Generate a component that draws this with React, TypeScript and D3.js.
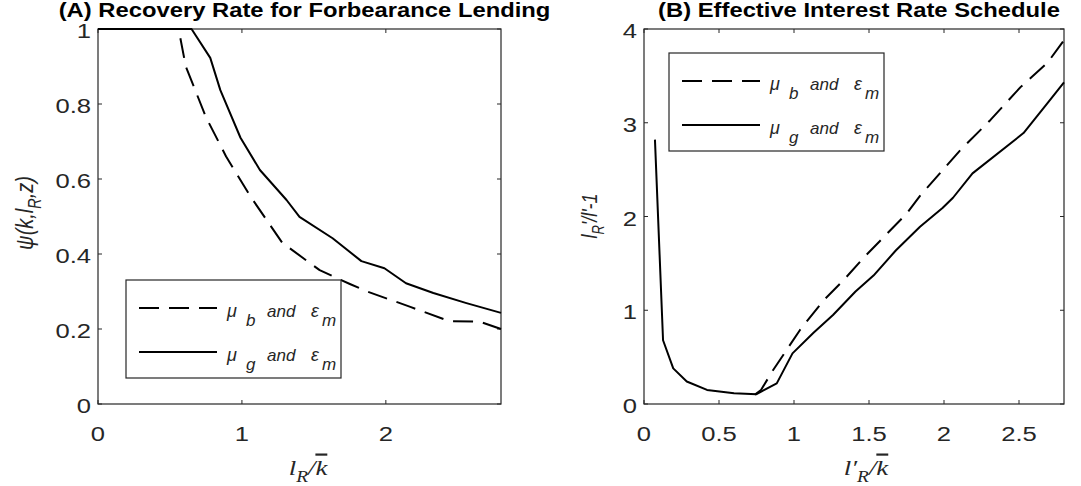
import { useEffect, useRef } from "react";
import * as d3 from "d3";

const W = 1081;
const H = 486;
const SX = 1.22; // the reference is stretched sideways; text follows it
const AXIS = "#262626";
const SANS = "Arial, 'Liberation Sans', Helvetica, sans-serif";
const SERIF = "'Liberation Serif', 'DejaVu Serif', serif";

// Panel A: recovery rate psi(k, l_R, z) against l_R / kbar
const recoveryBadX = [0, 0.56, 0.61, 0.75, 0.89, 1.06, 1.28, 1.54, 1.75, 1.87, 2.17, 2.44, 2.65, 2.8];
const recoveryBadY = [1, 1, 0.9, 0.765, 0.66, 0.553, 0.43, 0.357, 0.32, 0.3, 0.259, 0.221, 0.22, 0.2];
const recoveryGoodX = [0, 0.65, 0.78, 0.85, 0.99, 1.125, 1.31, 1.4, 1.63, 1.83, 1.99, 2.14, 2.33, 2.56, 2.8];
const recoveryGoodY = [1, 1, 0.923, 0.837, 0.71, 0.624, 0.544, 0.499, 0.442, 0.381, 0.362, 0.322, 0.296, 0.269, 0.243];

// Panel B: effective interest rate l_R'/l' - 1 against l'_R / kbar
const rateBadX = [0.74, 0.78, 0.86, 1.04, 1.2, 1.33, 1.47, 1.75, 1.84, 2.11, 2.31, 2.51, 2.69, 2.8];
const rateBadY = [0.1, 0.15, 0.36, 0.79, 1.11, 1.32, 1.57, 2.03, 2.22, 2.71, 3.03, 3.38, 3.64, 3.88];
const rateGoodX = [0.073, 0.127, 0.195, 0.285, 0.42, 0.6, 0.75, 0.885, 0.99, 1.13, 1.26, 1.41, 1.53, 1.68, 1.84, 1.99, 2.06, 2.19, 2.53, 2.69, 2.8];
const rateGoodY = [2.82, 0.68, 0.38, 0.24, 0.15, 0.115, 0.105, 0.22, 0.54, 0.76, 0.95, 1.2, 1.37, 1.64, 1.89, 2.09, 2.2, 2.46, 2.89, 3.21, 3.43];

const leftXTicks = [0, 1, 2];
const leftYTicks = [0, 0.2, 0.4, 0.6, 0.8, 1];
const rightXTicks = [0, 0.5, 1, 1.5, 2, 2.5];
const rightYTicks = [0, 1, 2, 3, 4];

type Part = { t: string; sub?: boolean; over?: boolean };
type Sel = d3.Selection<any, unknown, null, undefined>;

type Panel = {
  title: string;
  box: { left: number; right: number; top: number; bottom: number };
  xDomain: [number, number];
  yDomain: [number, number];
  xTicks: number[];
  yTicks: number[];
  series: { x: number[]; y: number[]; dash: boolean }[];
  legend: { dx: number; dy: number };
  xLabel: { cx: number; parts: Part[] };
  yLabel: { bx: number; cy: number; size: number; parts: Part[] };
};

const panels: Panel[] = [
  {
    title: "(A) Recovery Rate for Forbearance Lending",
    box: { left: 98, right: 501, top: 29, bottom: 404 },
    xDomain: [0, 2.8],
    yDomain: [0, 1],
    xTicks: leftXTicks,
    yTicks: leftYTicks,
    series: [
      { x: recoveryBadX, y: recoveryBadY, dash: true },
      { x: recoveryGoodX, y: recoveryGoodY, dash: false },
    ],
    legend: { dx: 28, dy: 251 },
    xLabel: { cx: 308, parts: [{ t: "l" }, { t: "R", sub: true }, { t: "/" }, { t: "k", over: true }] },
    yLabel: { bx: 33, cy: 213, size: 20, parts: [{ t: "ψ(k,l" }, { t: "R", sub: true }, { t: ",z)" }] },
  },
  {
    title: "(B) Effective Interest Rate Schedule",
    box: { left: 644, right: 1064, top: 29, bottom: 404 },
    xDomain: [0, 2.8],
    yDomain: [0, 4],
    xTicks: rightXTicks,
    yTicks: rightYTicks,
    series: [
      { x: rateBadX, y: rateBadY, dash: true },
      { x: rateGoodX, y: rateGoodY, dash: false },
    ],
    legend: { dx: 25, dy: 24 },
    xLabel: { cx: 866, parts: [{ t: "l′" }, { t: "R", sub: true }, { t: "/" }, { t: "k", over: true }] },
    yLabel: { bx: 597, cy: 216, size: 18, parts: [{ t: "l" }, { t: "R", sub: true }, { t: "'/l'-1" }] },
  },
];

const legendItems = [
  { sym: "μ", sub: "b", dash: true },
  { sym: "μ", sub: "g", dash: false },
];

// write parts as tspans, dropping subscripts below the baseline
function richText(text: Sel, parts: Part[], size: number) {
  let shift = 0;
  parts.forEach((p) => {
    const target = p.sub ? size * 0.32 : 0;
    const ts = text.append("tspan").text(p.t).attr("dy", target - shift);
    if (p.sub) ts.attr("font-size", size * 0.72);
    if (p.over) ts.style("text-decoration", "overline");
    shift = target;
  });
}

function drawPanel(svg: Sel, p: Panel, i: number) {
  const { left, right, top, bottom } = p.box;
  const x = d3.scaleLinear().domain(p.xDomain).range([left, right]);
  const y = d3.scaleLinear().domain(p.yDomain).range([bottom, top]);
  const g = svg.append("g");

  // Title
  g.append("g")
    .attr("transform", `translate(${(left + right) / 2 + 5},17) scale(${SX},1)`)
    .append("text")
    .attr("text-anchor", "middle")
    .attr("font-family", SANS)
    .attr("font-weight", "bold")
    .attr("font-size", 19.5)
    .attr("fill", "#000")
    .text(p.title);

  // Axes box and inward ticks on all sides
  g.append("rect")
    .attr("x", left)
    .attr("y", top)
    .attr("width", right - left)
    .attr("height", bottom - top)
    .attr("fill", "none")
    .attr("stroke", AXIS)
    .attr("stroke-width", 1.2);

  const tl = 4;
  p.xTicks.forEach((t) => {
    const px = x(t);
    g.append("line").attr("x1", px).attr("x2", px).attr("y1", bottom).attr("y2", bottom - tl).attr("stroke", AXIS);
    g.append("line").attr("x1", px).attr("x2", px).attr("y1", top).attr("y2", top + tl).attr("stroke", AXIS);
    g.append("g")
      .attr("transform", `translate(${px},441) scale(${SX},1)`)
      .append("text")
      .attr("text-anchor", "middle")
      .attr("font-family", SANS)
      .attr("font-size", 21)
      .attr("fill", AXIS)
      .text(d3.format("")(t));
  });
  p.yTicks.forEach((t) => {
    const py = y(t);
    g.append("line").attr("x1", left).attr("x2", left + tl).attr("y1", py).attr("y2", py).attr("stroke", AXIS);
    g.append("line").attr("x1", right).attr("x2", right - tl).attr("y1", py).attr("y2", py).attr("stroke", AXIS);
    g.append("g")
      .attr("transform", `translate(${left - 7},${py + 9}) scale(${SX},1)`)
      .append("text")
      .attr("text-anchor", "end")
      .attr("font-family", SANS)
      .attr("font-size", 21)
      .attr("fill", AXIS)
      .text(d3.format("")(t));
  });

  // Axis labels
  const xl = g
    .append("g")
    .attr("transform", `translate(${p.xLabel.cx},475) scale(${SX},1)`)
    .append("text")
    .attr("text-anchor", "middle")
    .attr("font-family", SERIF)
    .attr("font-style", "italic")
    .attr("font-size", 22)
    .attr("fill", AXIS);
  richText(xl, p.xLabel.parts, 22);

  const yl = g
    .append("g")
    .attr("transform", `translate(${p.yLabel.bx},${p.yLabel.cy}) rotate(-90) scale(1,${SX})`)
    .append("text")
    .attr("text-anchor", "middle")
    .attr("font-family", SANS)
    .attr("font-style", "italic")
    .attr("font-size", p.yLabel.size)
    .attr("fill", AXIS);
  richText(yl, p.yLabel.parts, p.yLabel.size);

  // Data lines
  const clipId = `clip-${i}`;
  g.append("clipPath")
    .attr("id", clipId)
    .append("rect")
    .attr("x", left - 2)
    .attr("y", top - 2)
    .attr("width", right - left + 4)
    .attr("height", bottom - top + 4);

  const line = d3
    .line<[number, number]>()
    .x((d) => x(d[0]))
    .y((d) => y(d[1]));

  p.series.forEach((s) => {
    const pts = s.x.map((v, k) => [v, s.y[k]] as [number, number]);
    g.append("path")
      .datum(pts)
      .attr("d", line)
      .attr("fill", "none")
      .attr("stroke", "#000")
      .attr("stroke-width", 2)
      .attr("stroke-linejoin", "round")
      .attr("stroke-dasharray", s.dash ? "20,10" : null)
      .attr("clip-path", `url(#${clipId})`);
  });

  // Legend
  const lx = left + p.legend.dx;
  const ly = top + p.legend.dy;
  const lg = g.append("g").attr("transform", `translate(${lx},${ly})`);
  lg.append("rect")
    .attr("width", 215)
    .attr("height", 98)
    .attr("fill", "#fff")
    .attr("stroke", AXIS)
    .attr("stroke-width", 1.2);

  legendItems.forEach((it, k) => {
    const ry = 28 + k * 44;
    lg.append("line")
      .attr("x1", 13)
      .attr("x2", 91)
      .attr("y1", ry)
      .attr("y2", ry)
      .attr("stroke", "#000")
      .attr("stroke-width", 2)
      .attr("stroke-dasharray", it.dash ? "20,10" : null);
    const piece = (px: number, dy: number, str: string, size = 17) =>
      lg.append("text")
        .attr("x", px)
        .attr("y", ry + dy)
        .attr("font-family", SANS)
        .attr("font-style", "italic")
        .attr("font-size", size)
        .attr("fill", AXIS)
        .text(str);
    piece(101, 9, it.sym, 18);
    piece(120, 18, it.sub);
    piece(141, 9, "and");
    piece(185, 9, "ε", 18);
    piece(196, 18, "m");
  });
}

export default function App() {
  const svgRef = useRef<SVGSVGElement | null>(null);

  useEffect(() => {
    if (!svgRef.current) return;
    const svg = d3.select(svgRef.current);
    svg.selectAll("*").remove();
    svg.append("rect").attr("width", W).attr("height", H).attr("fill", "#fff");
    panels.forEach((p, i) => drawPanel(svg as unknown as Sel, p, i));
  }, []);

  return (
    <svg
      ref={svgRef}
      width={W}
      height={H}
      viewBox={`0 0 ${W} ${H}`}
      style={{ position: "absolute", left: 0, top: 0, display: "block" }}
    />
  );
}
